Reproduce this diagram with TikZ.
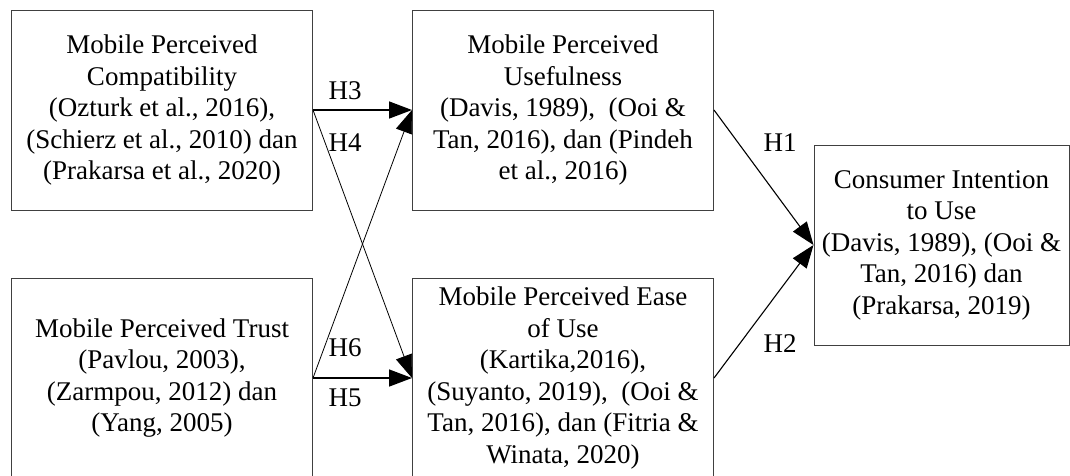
\documentclass[tikz,border=0pt]{standalone}
\usepackage{fontspec}
\setmainfont{Liberation Serif}
\usetikzlibrary{arrows.meta}
\begin{document}
\begin{tikzpicture}[x=1pt,y=-1pt,
  box/.style={draw=black!75,line width=1pt,rectangle,minimum width=301pt,minimum height=200pt,inner sep=0pt,align=center,font=\fontsize{27pt}{31.5pt}\selectfont},
  lbl/.style={inner sep=0pt,font=\fontsize{27pt}{31.5pt}\selectfont},
  thick arrow/.style={line width=1.5pt,-{Triangle[length=23pt,width=17pt]}},
  thin arrow/.style={line width=0.8pt,-{Triangle[length=23pt,width=17pt]}}]
\useasboundingbox (0,0) rectangle (1070,475);
\node[box] (comp) at (162,110) {Mobile Perceived\\Compatibility\\(Ozturk et al., 2016),\\(Schierz et al., 2010) dan\\(Prakarsa et al., 2020)};
\node[box] (use) at (563,110) {Mobile Perceived\\Usefulness\\(Davis, 1989),\ \ (Ooi \&\\Tan, 2016), dan (Pindeh\\et al., 2016)};
\node[box] (trust) at (162,378) {Mobile Perceived Trust\\(Pavlou, 2003),\\(Zarmpou, 2012) dan\\(Yang, 2005)};
\node[box] (ease) at (563,378) {Mobile Perceived Ease\\of Use\\(Kartika,2016),\\(Suyanto, 2019),\ \ (Ooi \&\\Tan, 2016), dan (Fitria \&\\Winata, 2020)};
\node[box,minimum width=255pt] (ci) at (941.5,245) {Consumer Intention\\to Use\\(Davis, 1989), (Ooi \&\\Tan, 2016) dan\\(Prakarsa, 2019)};
\draw[thick arrow] (comp.east) -- (use.west);
\draw[thin arrow] (comp.east) -- (ease.west);
\draw[thin arrow] (trust.east) -- (use.west);
\draw[thick arrow] (trust.east) -- (ease.west);
\draw[thin arrow,line width=1.1pt] (use.east) -- (ci.west);
\draw[thin arrow,line width=1.1pt] (ease.east) -- (ci.west);
\node[lbl] (h3) at (345,91) {H3};
\node[lbl] (h4) at (345,143) {H4};
\node[lbl] (h6) at (345,348) {H6};
\node[lbl] (h5) at (345,398) {H5};
\node[lbl] (h1) at (780,143) {H1};
\node[lbl] (h2) at (780,344) {H2};
\end{tikzpicture}
\end{document}
